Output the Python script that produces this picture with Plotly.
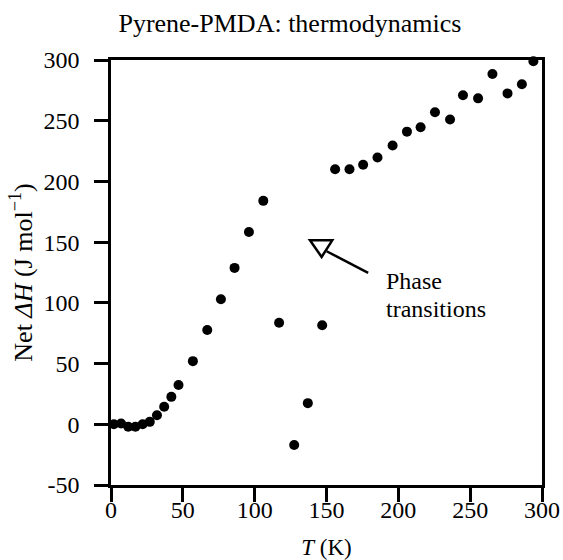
import plotly.graph_objects as go

# Data
T_K = [-3, 2, 7, 12, 17, 22, 27, 32, 37, 42, 47, 57, 67, 76.5, 86, 96, 106,
       117, 127.5, 137, 147,
       156, 166, 175.5, 185.5, 196, 206, 215.5, 225.5, 236, 245, 255.5, 265.5,
       276, 286, 294]
dH = [2, 0, 0.7, -2, -2, 0, 2, 7.5, 14.4, 22.6, 32.4, 52, 77.6, 103, 128.8, 158.4, 184,
      83.6, -17, 17.4, 81.5,
      210, 210, 213.7, 219.7, 229.6, 241, 244.6, 257, 251, 271, 268.4, 288.5,
      272.5, 280, 299]

x_ticks = [0, 50, 100, 150, 200, 250, 300]
y_ticks = [-50, 0, 50, 100, 150, 200, 250, 300]
y_tick_text = ["-50", "0", "50", "100", "150", "200", "250", "300"]

# annotation geometry (data coords)
arrow_head = [(138.5, 151.5), (154, 151.5), (146.6, 137.8)]
arrow_line = [(150.1, 142.5), (179, 124.7)]
label_lines = ["Phase", "transitions"]
label_x = 190.5
label_y = [118, 95]

FONT = "Liberation Serif, Times New Roman, serif"

fig = go.Figure()
fig.add_trace(go.Scatter(
    x=T_K, y=dH, mode="markers",
    marker=dict(color="black", size=10, line=dict(width=0)),
    cliponaxis=False, showlegend=False,
))

path = "M {} {} L {} {} L {} {} Z".format(*[c for p in arrow_head for c in p])
fig.add_shape(type="path", path=path, xref="x", yref="y",
              line=dict(color="black", width=2.5), fillcolor="white")
fig.add_shape(type="line", xref="x", yref="y",
              x0=arrow_line[0][0], y0=arrow_line[0][1],
              x1=arrow_line[1][0], y1=arrow_line[1][1],
              line=dict(color="black", width=2.5))
for txt, yy in zip(label_lines, label_y):
    fig.add_annotation(x=label_x, y=yy, xref="x", yref="y",
                       text=txt, showarrow=False,
                       xanchor="left", yanchor="middle", align="left",
                       borderpad=0,
                       font=dict(family=FONT, size=24, color="black"))

fig.update_layout(
    width=563, height=560,
    margin=dict(l=111, r=21, t=60, b=75),
    paper_bgcolor="white", plot_bgcolor="white",
    font=dict(family=FONT, color="black", size=24),
    title=dict(text="Pyrene-PMDA: thermodynamics", x=0.515, xanchor="center",
               xref="container", y=0.959, yanchor="middle",
               font=dict(family=FONT, size=26, color="black")),
)
fig.update_xaxes(
    range=[0, 300], tickvals=x_ticks, ticks="outside", ticklen=14, tickwidth=2.5,
    tickcolor="black", showline=True, linecolor="black", linewidth=2.5, mirror=True,
    showgrid=False, zeroline=False, tickfont=dict(size=24), ticklabelstandoff=-13,
    automargin=False,
    title=dict(text="<i>T</i> (K)", font=dict(size=23), standoff=20),
)
fig.update_yaxes(
    range=[-50, 300], tickvals=y_ticks, ticktext=y_tick_text, ticks="outside",
    ticklen=14, tickwidth=2.5, ticklabelstandoff=10, automargin=False,
    tickcolor="black", showline=True, linecolor="black", linewidth=2.5, mirror=True,
    showgrid=False, zeroline=False, tickfont=dict(size=24),
    title=dict(text="Net <i>ΔH</i> (J mol<sup>−1</sup>)", font=dict(size=26), standoff=4),
)

fig.write_html("out.html")
